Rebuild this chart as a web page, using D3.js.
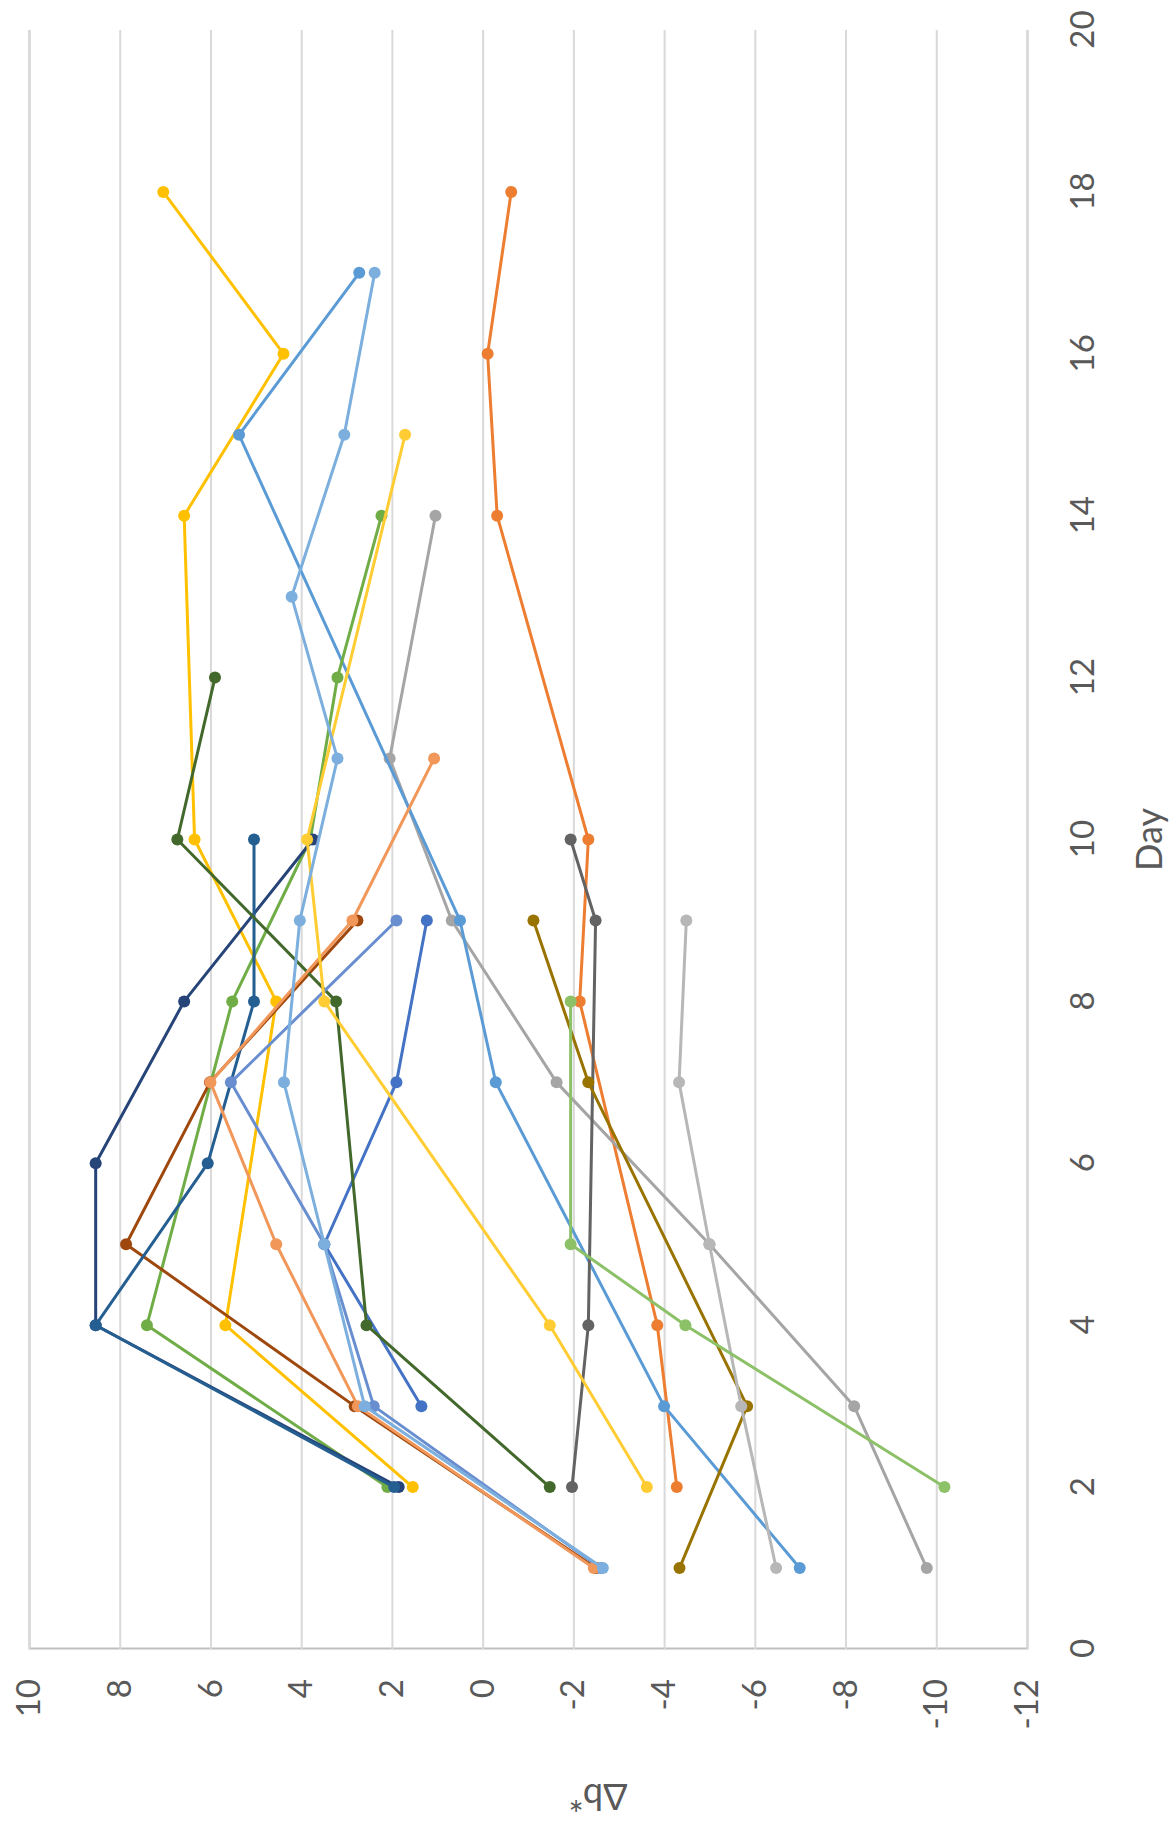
<!DOCTYPE html>
<html>
<head>
<meta charset="utf-8">
<script src="https://cdn.jsdelivr.net/npm/d3@7"></script>
<style>
body { margin: 0; background: #fff; }
</style>
</head>
<body>
<script>
// chart is an ordinary Excel scatter, turned 90deg counter-clockwise on the page
var W = 1176, H = 1822;

var day_ticks = [0, 2, 4, 6, 8, 10, 12, 14, 16, 18, 20];
var db_ticks = [-12, -10, -8, -6, -4, -2, 0, 2, 4, 6, 8, 10];

// [day, delta b*]
var s01 = [[3, 1.35], [5, 3.49], [7, 1.9], [9, 1.23]];
var s02 = [[2, -4.28], [4, -3.85], [8, -2.14], [10, -2.33], [14, -0.32], [16, -0.11], [18, -0.63]];
var s03 = [[1, -9.79], [3, -8.19], [5, -5.0], [7, -1.63], [9, 0.68], [11, 2.05], [14, 1.04]];
var s04 = [[2, 1.54], [4, 5.67], [8, 4.55], [10, 6.35], [14, 6.58], [16, 4.39], [18, 7.04]];
var s05 = [[1, -6.99], [3, -4.0], [7, -0.29], [9, 0.5], [15, 5.37], [17, 2.72]];
var s06 = [[2, 2.1], [4, 7.4], [8, 5.52], [10, 3.8], [12, 3.2], [14, 2.23]];
var s07 = [[2, 1.85], [4, 8.53], [6, 8.53], [8, 6.58], [10, 3.74]];
var s08 = [[1, -2.5], [3, 2.82], [5, 7.86], [7, 6.01], [9, 2.76]];
var s09 = [[2, -1.97], [4, -2.33], [9, -2.49], [10, -1.94]];
var s10 = [[1, -4.34], [3, -5.83], [7, -2.33], [9, -1.12]];
var s11 = [[2, 1.95], [4, 8.53], [6, 6.06], [8, 5.04], [10, 5.04]];
var s12 = [[2, -1.48], [4, 2.56], [8, 3.23], [10, 6.73], [12, 5.9]];
var s13 = [[1, -2.6], [3, 2.4], [5, 3.49], [7, 5.55], [9, 1.9]];
var s14 = [[1, -2.45], [3, 2.75], [5, 4.55], [7, 6.0], [9, 2.87], [11, 1.07]];
var s15 = [[1, -6.47], [3, -5.7], [5, -5.0], [7, -4.33], [9, -4.49]];
var s16 = [[2, -3.62], [4, -1.48], [8, 3.49], [10, 3.87], [15, 1.71]];
var s17 = [[1, -2.65], [3, 2.6], [5, 3.49], [7, 4.38], [9, 4.03], [11, 3.2], [13, 4.21], [15, 3.05], [17, 2.38]];
var s18 = [[2, -10.18], [4, -4.47], [5, -1.94], [8, -1.94]];

var all_series = [s01, s02, s03, s04, s05, s06, s07, s08, s09, s10, s11, s12, s13, s14, s15, s16, s17, s18];
var colors = ["#4472C4", "#ED7D31", "#A5A5A5", "#FFC000", "#5B9BD5", "#70AD47",
	"#264478", "#9E480E", "#636363", "#997300", "#255E91", "#43682B",
	"#698ED0", "#F1975A", "#B7B7B7", "#FFCD33", "#7CAFDD", "#8CC168"];

var font = "Lato, 'Open Sans', sans-serif";
var txt = "#595959";

var svg = d3.select("body").append("svg")
	.attr("width", W)
	.attr("height", H);
svg.append("rect").attr("width", W).attr("height", H).attr("fill", "#fff");

// unrotated frame: (ux, uy) -> page (uy, H - ux)
var g = svg.append("g").attr("transform", "translate(0," + H + ") rotate(-90)");

var x = d3.scaleLinear().domain([0, 20]).range([173, 1792]);
var y = d3.scaleLinear().domain([-12, 10]).range([1027, 29]);

// value axis with gridlines
var yAxis = g.append("g")
	.attr("transform", "translate(" + x(0) + ",0)")
	.call(d3.axisLeft(y).tickValues(db_ticks)
		.tickFormat(function(d) { return String(d); })
		.tickSize(-(x(20) - x(0))).tickPadding(30));
yAxis.select(".domain").attr("stroke", "#bfbfbf").attr("stroke-width", 2);
yAxis.selectAll(".tick line").attr("stroke", "#d9d9d9").attr("stroke-width", 2);
yAxis.selectAll(".tick text")
	.attr("fill", txt)
	.style("font-family", font)
	.style("font-size", "33px");

// day axis, labels only
var xAxis = g.append("g")
	.attr("transform", "translate(0," + y(-12) + ")")
	.call(d3.axisBottom(x).tickValues(day_ticks).tickSize(0).tickPadding(44));
xAxis.select(".domain").remove();
xAxis.selectAll(".tick text")
	.attr("fill", txt)
	.style("font-family", font)
	.style("font-size", "33px");

// axis titles
g.append("text")
	.attr("x", (x(0) + x(20)) / 2)
	.attr("y", 1162)
	.attr("text-anchor", "middle")
	.attr("fill", txt)
	.style("font-family", font)
	.style("font-size", "36px")
	.text("Day");

g.append("text")
	.attr("transform", "translate(38,598) rotate(-90)")
	.attr("text-anchor", "middle")
	.attr("fill", txt)
	.style("font-family", font)
	.style("font-size", "36px")
	.text("Δb*");

var line = d3.line()
	.x(function(d) { return x(d[0]); })
	.y(function(d) { return y(d[1]); });

all_series.forEach(function(s, i) {
	var sg = g.append("g");
	sg.append("path")
		.attr("d", line(s))
		.attr("fill", "none")
		.attr("stroke", colors[i])
		.attr("stroke-width", 3)
		.attr("stroke-linejoin", "round");
	sg.selectAll("circle")
		.data(s)
		.enter()
		.append("circle")
		.attr("cx", function(d) { return x(d[0]); })
		.attr("cy", function(d) { return y(d[1]); })
		.attr("r", 6)
		.attr("fill", colors[i]);
});
</script>
</body>
</html>
